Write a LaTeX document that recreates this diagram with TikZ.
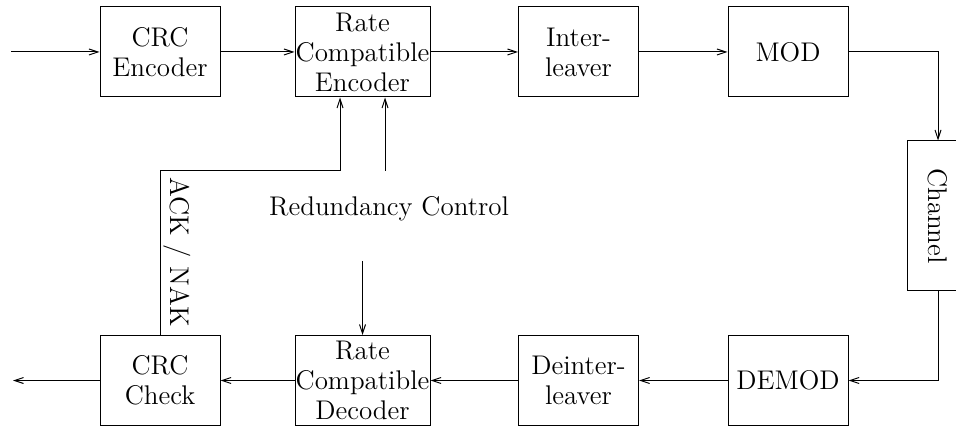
\documentclass[tikz,border=0pt]{standalone}
\usetikzlibrary{arrows.meta}
\begin{document}
\begin{tikzpicture}[x=0.5pt,y=-0.5pt,
  line width=0.5pt,
  every node/.style={font=\rmfamily\fontsize{13.5}{15}\selectfont, inner sep=0pt, align=center},
  block/.style={draw, minimum width=60pt, minimum height=45pt},
  wideblock/.style={block, minimum width=67.5pt},
  arr/.style={-{Straight Barb[length=4.5pt,width=3pt]}}]
\useasboundingbox (0,0) rectangle (956,426);

% transmitter chain
\node[block]     (crce) at (160,52)   {CRC\\Encoder};
\node[wideblock] (rce)  at (362.5,52) {Rate\\Compatible\\Encoder};
\node[block]     (intl) at (578.5,52) {Inter-\\leaver};
\node[block]     (mod)  at (788,52)   {MOD};

% channel
\node[draw, minimum width=31pt, minimum height=75pt] (chan) at (938,216) {};
\node[rotate=-90] at (chan) {Channel};

% receiver chain
\node[block]     (demod) at (788,380.5)   {DEMOD};
\node[block]     (dintl) at (578.5,380.5) {Deinter-\\leaver};
\node[wideblock] (rcd)   at (362.5,380.5) {Rate\\Compatible\\Decoder};
\node[block]     (crcc)  at (160,380.5)   {CRC\\Check};

% free ends
\coordinate (src)  at (11,52);
\coordinate (sink) at (13,380.5);
\coordinate (fb)   at (340,171);
\coordinate (rcup) at (385,171);
\coordinate (rcdn) at (362.5,261);

% forward path
\draw[arr] (src) -- (crce);
\draw[arr] (crce) -- (rce);
\draw[arr] (rce) -- (intl);
\draw[arr] (intl) -- (mod);
\draw[arr] (mod.east) -| (chan.north);
\draw[arr] (chan.south) |- (demod.east);
\draw[arr] (demod) -- (dintl);
\draw[arr] (dintl) -- (rcd);
\draw[arr] (rcd) -- (crcc);
\draw[arr] (crcc) -- (sink);

% feedback and redundancy control
\draw[arr] (crcc.north) |- (fb) -- (fb |- rce.south);
\draw[arr] (rcup) -- (rcup |- rce.south);
\draw[arr] (rcdn) -- (rcd.north);
\node (rclabel) at (389,209) {Redundancy Control};
\node[rotate=-90] (acknak) at (177,252) {ACK / NAK};
\end{tikzpicture}
\end{document}
